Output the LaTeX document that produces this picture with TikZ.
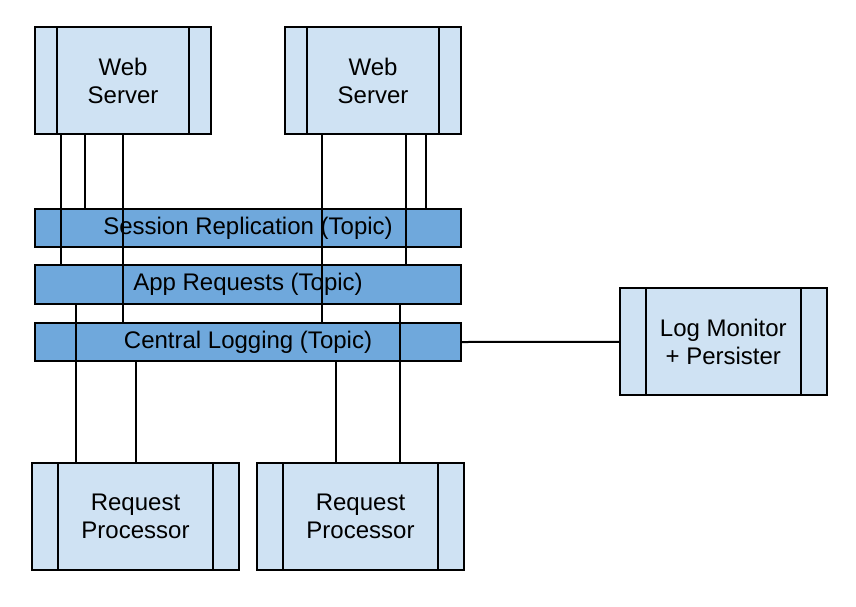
\documentclass[tikz,border=0pt]{standalone}
\usepackage{fontspec}
\setmainfont{Liberation Sans}
\definecolor{boxblue}{HTML}{CFE2F3}
\definecolor{topicblue}{HTML}{6FA8DC}
\tikzset{
  procbox/.style={draw, line width=2pt, fill=boxblue, rectangle, outer sep=0pt,
    minimum width=207pt, minimum height=107pt, align=center,
    font=\fontsize{24}{28}\selectfont,
    path picture={
      \draw[line width=2pt] ([xshift=#1]path picture bounding box.north west) -- ([xshift=#1]path picture bounding box.south west);
      \draw[line width=2pt] ([xshift=-#1]path picture bounding box.north east) -- ([xshift=-#1]path picture bounding box.south east);
    }},
  procbox/.default=26pt,
  topicbar/.style={draw, line width=2pt, fill=topicblue, rectangle, outer sep=0pt,
    minimum width=426pt, minimum height=38.5pt,
    font=\fontsize{24}{28}\selectfont},
  wire/.style={line width=2pt}
}
\begin{document}
\begin{tikzpicture}[x=1pt, y=-1pt]
  \useasboundingbox[fill=white] (0,0) rectangle (856,606);
  % servers
  \node[procbox=22pt, minimum width=176pt] (web1) at (123,80.5) {Web\\Server};
  \node[procbox=22pt, minimum width=176pt] (web2) at (373,80.5) {Web\\Server};
  % topics
  \node[topicbar] (sess) at (248,228) {Session Replication (Topic)};
  \node[topicbar] (app) at (248,284.5) {App Requests (Topic)};
  \node[topicbar] (log) at (248,342) {Central Logging (Topic)};
  % consumers
  \node[procbox] (mon) at (723.3,341.8) {Log Monitor\\+ Persister};
  \node[procbox] (proc1) at (135.5,516) {Request\\Processor};
  \node[procbox] (proc2) at (360.5,516) {Request\\Processor};

  % web server 1
  \draw[wire] ([xshift=26pt]web1.south west) -- ([xshift=26pt]web1.south west |- app.north);
  \draw[wire] ([xshift=50pt]web1.south west) -- ([xshift=50pt]web1.south west |- sess.north);
  \draw[wire] (web1.south) -- (web1.south |- log.north);
  % web server 2
  \draw[wire] ([xshift=37pt]web2.south west) -- ([xshift=37pt]web2.south west |- log.north);
  \draw[wire] ([xshift=121pt]web2.south west) -- ([xshift=121pt]web2.south west |- app.north);
  \draw[wire] ([xshift=141pt]web2.south west) -- ([xshift=141pt]web2.south west |- sess.north);
  % request processors
  \draw[wire] ([xshift=44pt]proc1.north west) -- ([xshift=44pt]proc1.north west |- app.south);
  \draw[wire] (proc1.north) -- (proc1.north |- log.south);
  \draw[wire] ([xshift=79pt]proc2.north west) -- ([xshift=79pt]proc2.north west |- log.south);
  \draw[wire] ([xshift=143pt]proc2.north west) -- ([xshift=143pt]proc2.north west |- app.south);
  % monitor
  \draw[wire] (log.east) -- (mon.west);
\end{tikzpicture}
\end{document}
